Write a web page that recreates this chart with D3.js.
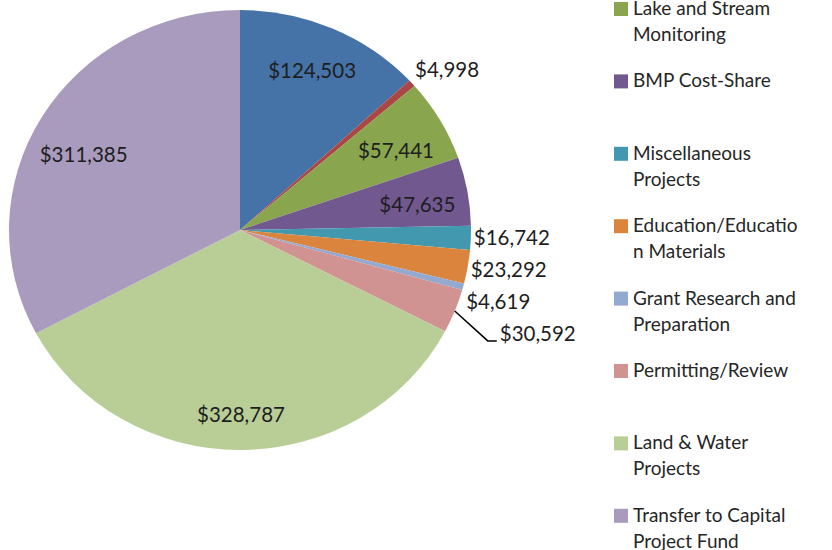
<!DOCTYPE html>
<html>
<head>
<meta charset="utf-8">
<script src="https://cdn.jsdelivr.net/npm/d3@7"></script>
<style>
	body { margin: 0; background: #fff; }
	svg { display: block; }
</style>
</head>
<body>
<svg id="chart" width="832" height="550"></svg>
<script>
// slice values, clockwise from 12 o'clock
var values = [124503, 4998, 57441, 47635, 16742, 23292, 4619, 30592, 328787, 311385];
// legend names (first two entries are above the visible area of the picture)
var legendNames = [
	null,
	null,
	['Lake and Stream', 'Monitoring'],
	['BMP Cost-Share'],
	['Miscellaneous', 'Projects'],
	['Education/Educatio', 'n Materials'],
	['Grant Research and', 'Preparation'],
	['Permitting/Review'],
	['Land & Water', 'Projects'],
	['Transfer to Capital', 'Project Fund']
];
var colors = ['#4572A7', '#AA4643', '#89A54E', '#71588F', '#4198AF', '#DB843D', '#93A9CF', '#D19392', '#B9CD96', '#A99BBD'];
// where the data label goes: inside the slice or outside
var placement = ['in', 'out', 'in', 'in', 'out', 'out', 'out', 'out', 'in', 'in'];

var svg = d3.select('#chart');
var cx = 240, cy = 230, r = 220, sx = 1.05;
var fmt = d3.format('$,');
// small hand adjustments of some inside labels (best-fit placement)
var nudge = {0: [0, -2], 2: [0, 7], 3: [0, 5], 9: [10, 20]};

var pie = d3.pie().sort(null).value(function(d) { return d; });
var arcs = pie(values);
var arc = d3.arc().innerRadius(0).outerRadius(r);

var g = svg.append('g').attr('transform', 'translate(' + cx + ',' + cy + ') scale(' + sx + ',1)');
g.selectAll('path')
	.data(arcs)
	.enter().append('path')
	.attr('d', arc)
	.attr('fill', function(d, i) { return colors[i]; });

function pointAt(a, rad) {
	return [cx + sx * rad * Math.sin(a), cy - rad * Math.cos(a)];
}

var labels = svg.append('g')
	.style('font-family', 'Lato, "Open Sans", sans-serif')
	.style('font-size', '20.5px')
	.attr('fill', '#1e1e1e');

var prevY = -Infinity;
arcs.forEach(function(d, i) {
	var mid = (d.startAngle + d.endAngle) / 2;
	if (placement[i] === 'in') {
		var k = d.endAngle - d.startAngle > 2 ? 0.84 : 0.78;
		var p = pointAt(mid, r * k);
		var n = nudge[i] || [0, 0];
		labels.append('text')
			.attr('x', p[0] + n[0]).attr('y', p[1] + n[1])
			.attr('dy', '0.35em')
			.attr('text-anchor', 'middle')
			.text(fmt(values[i]));
		return;
	}
	var e = pointAt(mid, r);
	var ly, lx = e[0] + 3;
	if (mid < Math.PI / 2) {
		ly = e[1] - 13;
	} else {
		ly = Math.max(e[1], prevY + 32);
	}
	prevY = ly;
	if (ly - e[1] > 20) {
		lx = e[0] + 45;
		labels.append('polyline')
			.attr('points', [e, [lx - 12, ly + 7], [lx - 3, ly + 7]].join(' '))
			.attr('fill', 'none')
			.attr('stroke', '#000')
			.attr('stroke-width', 1.5);
	}
	labels.append('text')
		.attr('x', lx).attr('y', ly)
		.attr('dy', '0.35em')
		.text(fmt(values[i]));
});

// legend
var legend = svg.append('g')
	.style('font-family', 'Lato, "Open Sans", sans-serif')
	.style('font-size', '19px')
	.attr('fill', '#262626');
var y0 = 15, step = 72.4, lineH = 26;
legendNames.forEach(function(lines, i) {
	if (!lines) return;
	var by = y0 + (i - 2) * step;
	legend.append('rect')
		.attr('x', 614).attr('y', by - 13)
		.attr('width', 14).attr('height', 14)
		.attr('fill', colors[i]);
	lines.forEach(function(t, j) {
		legend.append('text')
			.attr('x', 633).attr('y', by + j * lineH)
			.text(t);
	});
});
</script>
</body>
</html>
